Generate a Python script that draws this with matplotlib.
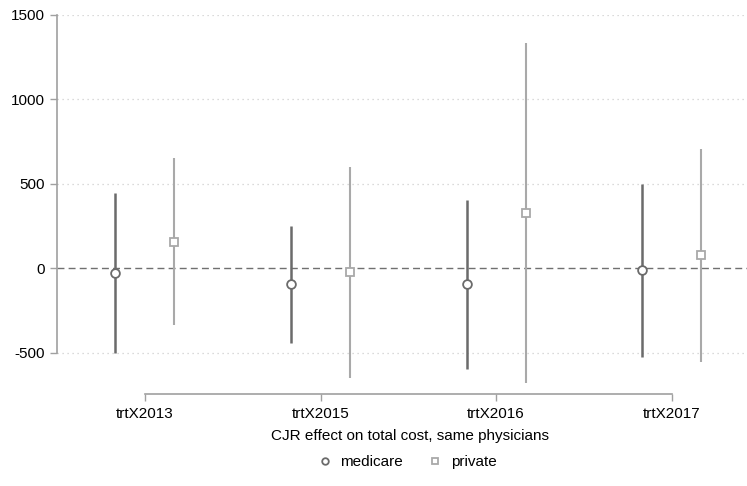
import matplotlib
matplotlib.use("Agg")
import matplotlib.pyplot as plt
import numpy as np

plt.rcParams['font.family'] = ['Liberation Sans', 'DejaVu Sans']
plt.rcParams['axes.unicode_minus'] = False

# coefficient estimates with 95% confidence intervals
terms = ["trtX2013", "trtX2015", "trtX2016", "trtX2017"]
medicare_est = [-25, -95, -95, -12]
medicare_lo = [-502, -443, -597, -526]
medicare_hi = [449, 251, 407, 498]
private_est = [158, -22, 330, 77]
private_lo = [-338, -652, -678, -553]
private_hi = [656, 599, 1336, 704]

yticks = [-500, 0, 500, 1000, 1500]

dark = "#6b6b6b"
light = "#a9a9a9"

fig = plt.figure(figsize=(7.47, 4.86), dpi=100)
ax = fig.add_axes([57 / 747, 92 / 486, 690 / 747, 379 / 486])

pos = np.arange(1, len(terms) + 1)
off = 0.168

# grid and reference line
for y in yticks:
    if y == 0:
        continue
    ax.axhline(y, color="#cfcfcf", lw=0.9, ls=(0, (1, 3)), zorder=0)
ax.axhline(0, color="#707070", lw=1.0, ls=(0, (5, 3)), zorder=1)

ax.vlines(pos - off, medicare_lo, medicare_hi, color=dark, lw=1.8, zorder=2)
ax.plot(pos - off, medicare_est, "o", ms=6.3, mfc="white", mec=dark, mew=1.3,
        zorder=3, label="medicare")
ax.vlines(pos + off, private_lo, private_hi, color=light, lw=1.5, zorder=2)
ax.plot(pos + off, private_est, "s", ms=5.8, mfc="white", mec=light, mew=1.3,
        zorder=3, label="private")

ax.set_ylim(-744, 1500)
ax.set_xlim(0.499, 4.429)

ax.set_yticks(yticks)
ax.set_xticks(pos)
ax.set_xticklabels(terms)

for s in ["top", "right"]:
    ax.spines[s].set_visible(False)
ax.spines["left"].set_bounds(-500, 1500)
ax.spines["bottom"].set_bounds(1, 4)
ax.spines["left"].set_color("#a0a0a0")
ax.spines["bottom"].set_color("#a0a0a0")
ax.spines["left"].set_linewidth(1.2)
ax.spines["bottom"].set_linewidth(1.2)
ax.tick_params(axis="both", colors="#a0a0a0", labelcolor="black",
               labelsize=11, length=5, width=1.0)
ax.tick_params(axis="y", pad=4)
ax.tick_params(axis="x", pad=4)

fig.text(410 / 747, 1 - 436 / 486, "CJR effect on total cost, same physicians",
         ha="center", va="center", fontsize=11)

ax.legend(loc="center", bbox_to_anchor=(407 / 747, 1 - 462 / 486),
          bbox_transform=fig.transFigure, ncol=2, frameon=False,
          fontsize=11, markerscale=0.75, handletextpad=0.5, columnspacing=1.6,
          handlelength=1.0)

fig.savefig("out.png", dpi=100)
